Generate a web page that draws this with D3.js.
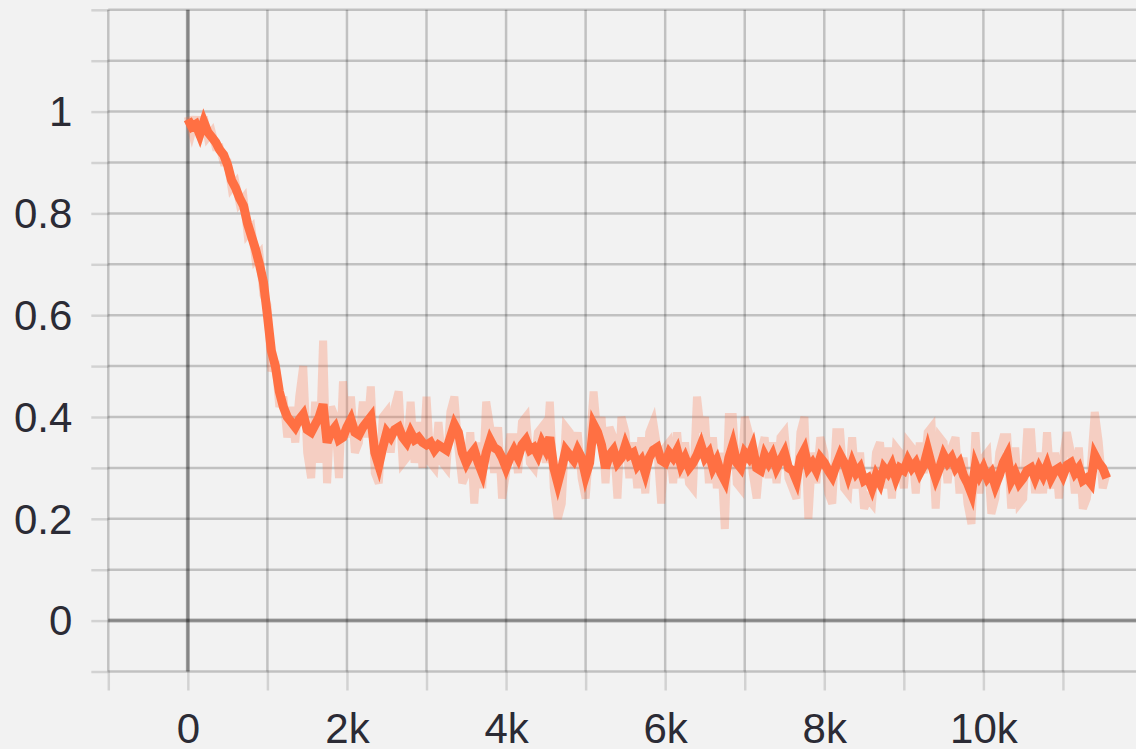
<!DOCTYPE html>
<html>
<head>
<meta charset="utf-8">
<script src="https://cdn.jsdelivr.net/npm/d3@7"></script>
<style>
  html, body { margin: 0; padding: 0; background: #f2f2f2; }
  svg { display: block; }
</style>
</head>
<body>
<svg id="chart" width="1136" height="749"></svg>
<script>
// sample spacing of the logged scalars (steps)
const STEP = 50;

// smoothed curve, one value every 50 steps from 0 to 11550
const smoothed = [
  0.985, 0.97, 0.975, 0.955, 0.98, 0.96, 0.95, 0.94, 0.925, 0.915, 0.895, 0.865, 0.85, 0.83, 0.815, 0.78, 0.755, 0.73, 0.70, 0.665,
  0.60, 0.53, 0.50, 0.45, 0.42, 0.40, 0.39, 0.38, 0.395, 0.405, 0.375, 0.37, 0.385, 0.40, 0.425, 0.35, 0.37, 0.38, 0.355, 0.36,
  0.38, 0.395, 0.37, 0.365, 0.38, 0.39, 0.40, 0.33, 0.305, 0.34, 0.37, 0.36, 0.375, 0.38, 0.36, 0.35, 0.37, 0.355, 0.36, 0.35,
  0.345, 0.35, 0.335, 0.345, 0.34, 0.335, 0.36, 0.385, 0.37, 0.33, 0.31, 0.325, 0.335, 0.31, 0.29, 0.33, 0.355, 0.34, 0.335, 0.32,
  0.30, 0.32, 0.335, 0.32, 0.345, 0.355, 0.335, 0.34, 0.325, 0.35, 0.335, 0.36, 0.30, 0.27, 0.30, 0.335, 0.325, 0.315, 0.335, 0.32,
  0.285, 0.31, 0.385, 0.37, 0.345, 0.30, 0.325, 0.335, 0.31, 0.32, 0.345, 0.325, 0.33, 0.305, 0.315, 0.29, 0.32, 0.335, 0.34, 0.315,
  0.31, 0.33, 0.32, 0.335, 0.305, 0.32, 0.30, 0.31, 0.325, 0.345, 0.32, 0.33, 0.30, 0.315, 0.29, 0.275, 0.32, 0.345, 0.31, 0.30,
  0.33, 0.32, 0.34, 0.30, 0.295, 0.325, 0.31, 0.325, 0.30, 0.315, 0.33, 0.30, 0.295, 0.276, 0.32, 0.335, 0.30, 0.31, 0.295, 0.32,
  0.31, 0.295, 0.283, 0.305, 0.325, 0.31, 0.285, 0.31, 0.29, 0.30, 0.275, 0.28, 0.26, 0.285, 0.27, 0.30, 0.29, 0.305, 0.28, 0.30,
  0.295, 0.315, 0.30, 0.31, 0.29, 0.305, 0.335, 0.305, 0.28, 0.30, 0.325, 0.31, 0.32, 0.30, 0.31, 0.285, 0.27, 0.25, 0.305, 0.285,
  0.30, 0.28, 0.29, 0.265, 0.285, 0.31, 0.325, 0.275, 0.29, 0.27, 0.28, 0.295, 0.30, 0.28, 0.30, 0.285, 0.305, 0.28, 0.295, 0.30,
  0.285, 0.305, 0.31, 0.29, 0.30, 0.275, 0.28, 0.27, 0.325, 0.31, 0.30, 0.28
];

// raw (unsmoothed) values, same steps
const raw = [
  0.99, 0.96, 0.99, 0.95, 0.99, 0.95, 0.96, 0.93, 0.93, 0.90, 0.90, 0.85, 0.86, 0.82, 0.83, 0.76, 0.77, 0.71, 0.72, 0.64,
  0.62, 0.49, 0.51, 0.42, 0.44, 0.36, 0.42, 0.35, 0.44, 0.50, 0.33, 0.28, 0.43, 0.31, 0.55, 0.27, 0.42, 0.40, 0.28, 0.47,
  0.36, 0.44, 0.33, 0.35, 0.43, 0.36, 0.46, 0.29, 0.27, 0.40, 0.41, 0.33, 0.42, 0.45, 0.31, 0.32, 0.43, 0.31, 0.39, 0.30,
  0.44, 0.31, 0.30, 0.39, 0.31, 0.30, 0.41, 0.44, 0.34, 0.27, 0.29, 0.37, 0.23, 0.35, 0.26, 0.43, 0.38, 0.29, 0.38, 0.24,
  0.29, 0.36, 0.36, 0.29, 0.39, 0.40, 0.31, 0.30, 0.37, 0.38, 0.31, 0.43, 0.26, 0.20, 0.23, 0.38, 0.37, 0.30, 0.37, 0.28,
  0.24, 0.34, 0.45, 0.36, 0.40, 0.27, 0.38, 0.36, 0.24, 0.40, 0.37, 0.28, 0.35, 0.26, 0.36, 0.25, 0.37, 0.39, 0.34, 0.23,
  0.34, 0.35, 0.27, 0.37, 0.28, 0.35, 0.27, 0.26, 0.44, 0.37, 0.40, 0.27, 0.36, 0.26, 0.33, 0.18, 0.40, 0.40, 0.27, 0.26,
  0.40, 0.37, 0.29, 0.24, 0.33, 0.36, 0.28, 0.35, 0.27, 0.36, 0.37, 0.28, 0.26, 0.24, 0.37, 0.40, 0.20, 0.33, 0.27, 0.36,
  0.33, 0.25, 0.23, 0.37, 0.37, 0.26, 0.25, 0.36, 0.26, 0.33, 0.22, 0.24, 0.23, 0.33, 0.35, 0.26, 0.34, 0.24, 0.34, 0.33,
  0.26, 0.35, 0.34, 0.25, 0.35, 0.29, 0.37, 0.38, 0.22, 0.36, 0.35, 0.27, 0.34, 0.36, 0.25, 0.32, 0.23, 0.19, 0.37, 0.25,
  0.32, 0.33, 0.21, 0.24, 0.33, 0.36, 0.36, 0.22, 0.34, 0.23, 0.24, 0.37, 0.37, 0.25, 0.33, 0.25, 0.37, 0.26, 0.33, 0.24,
  0.32, 0.37, 0.33, 0.25, 0.34, 0.22, 0.24, 0.30, 0.41, 0.35, 0.26, 0.29
];

// grid and tick values
const xGrid = [-1000, 0, 1000, 2000, 3000, 4000, 5000, 6000, 7000, 8000, 9000, 10000, 11000, 12000];
const yGrid = [-0.1, 0, 0.1, 0.2, 0.3, 0.4, 0.5, 0.6, 0.7, 0.8, 0.9, 1.0, 1.1, 1.2];
const xTickValues = [0, 2000, 4000, 6000, 8000, 10000];
const xTickLabels = ["0", "2k", "4k", "6k", "8k", "10k"];
const yTickValues = [0, 0.2, 0.4, 0.6, 0.8, 1];
const yTickLabels = ["0", "0.2", "0.4", "0.6", "0.8", "1"];

const width = 1136, height = 749;
const svg = d3.select("#chart");

const x = d3.scaleLinear().domain([-1000, 12000]).range([108.3, 1142.5]);
const y = d3.scaleLinear().domain([-0.1, 1.2]).range([671.5, 9.8]);

const plotLeft = x(-1000), plotBottom = y(-0.1), plotTop = y(1.2);
const labelFont = "'Liberation Sans', Arial, Helvetica, sans-serif";

// grid
const grid = svg.append("g").attr("fill", "none");

grid.selectAll("line.vgrid")
  .data(xGrid)
  .enter().append("line")
    .attr("class", "vgrid")
    .attr("x1", d => x(d)).attr("x2", d => x(d))
    .attr("y1", plotTop).attr("y2", plotBottom)
    .attr("stroke", "rgba(0,0,0,0.2)")
    .attr("stroke-width", 2.5);

grid.selectAll("line.hgrid")
  .data(yGrid)
  .enter().append("line")
    .attr("class", "hgrid")
    .attr("x1", plotLeft).attr("x2", width)
    .attr("y1", d => y(d)).attr("y2", d => y(d))
    .attr("stroke", "rgba(0,0,0,0.2)")
    .attr("stroke-width", 2.5);

// zero lines
grid.append("line")
  .attr("x1", x(0)).attr("x2", x(0))
  .attr("y1", plotTop).attr("y2", plotBottom)
  .attr("stroke", "rgba(0,0,0,0.3)")
  .attr("stroke-width", 4);

grid.append("line")
  .attr("x1", plotLeft).attr("x2", width)
  .attr("y1", y(0)).attr("y2", y(0))
  .attr("stroke", "rgba(0,0,0,0.3)")
  .attr("stroke-width", 4);

// axes (ticks outside the plot + labels)
const xAxis = g => g
  .attr("transform", `translate(0,${plotBottom})`)
  .call(d3.axisBottom(x).tickValues(xGrid.filter(d => d < 12000)).tickSize(19).tickFormat(d => {
    const i = xTickValues.indexOf(d);
    return i < 0 ? "" : xTickLabels[i];
  }))
  .call(g => g.select(".domain").remove())
  .call(g => g.selectAll(".tick line").attr("stroke", "rgba(0,0,0,0.13)").attr("stroke-width", 2.5))
  .call(g => g.selectAll(".tick text")
    .attr("y", 0).attr("dy", "0")
    .attr("transform", "translate(0,71)")
    .attr("font-family", labelFont)
    .attr("font-size", 42)
    .attr("fill", "#2b2b35"));

const yAxis = g => g
  .attr("transform", `translate(${plotLeft},0)`)
  .call(d3.axisLeft(y).tickValues(yGrid).tickSize(17).tickFormat(d => {
    const i = yTickValues.findIndex(v => Math.abs(v - d) < 1e-9);
    return i < 0 ? "" : yTickLabels[i];
  }))
  .call(g => g.select(".domain").remove())
  .call(g => g.selectAll(".tick line").attr("stroke", "rgba(0,0,0,0.13)").attr("stroke-width", 2.5))
  .call(g => g.selectAll(".tick text")
    .attr("x", -36)
    .attr("dy", "0.34em")
    .attr("font-family", labelFont)
    .attr("font-size", 42)
    .attr("fill", "#2b2b35"));

svg.append("g").call(xAxis);
svg.append("g").call(yAxis);

// series
const line = d3.line()
  .x((d, i) => x(i * STEP))
  .y(d => y(d));

svg.append("path")
  .datum(raw)
  .attr("fill", "none")
  .attr("stroke", "#ff7043")
  .attr("stroke-opacity", 0.27)
  .attr("stroke-width", 8)
  .attr("d", line);

svg.append("path")
  .datum(smoothed)
  .attr("fill", "none")
  .attr("stroke", "#ff7043")
  .attr("stroke-width", 9)
  .attr("d", line);
</script>
</body>
</html>
